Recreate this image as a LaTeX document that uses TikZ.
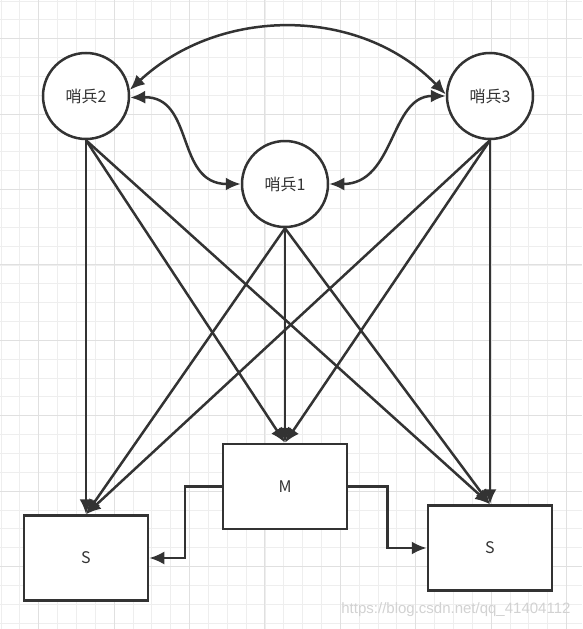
\documentclass[tikz,border=0pt]{standalone}
\usepackage{fontspec}
\setmainfont{Noto Sans CJK SC}
\newfontfamily\wmfont{Liberation Sans}
\usetikzlibrary{arrows.meta}
\definecolor{ink}{HTML}{333333}
\definecolor{gminor}{HTML}{EEEEEE}
\definecolor{gmajor}{HTML}{E0E0E0}
\tikzset{
  sentry/.style={circle, draw=ink, line width=2.5pt, fill=white, minimum size=86pt, inner sep=0pt, font=\fontsize{16}{19}\selectfont, text=ink},
  box/.style={rectangle, draw=ink, line width=2.5pt, fill=white, minimum width=124pt, minimum height=85pt, inner sep=0pt, font=\fontsize{16}{19}\selectfont, text=ink},
  conn/.style={draw=ink, line width=2.5pt, -{Latex[length=15pt,width=13pt]}},
  dconn/.style={draw=ink, line width=2.5pt, {Latex[length=15pt,width=13pt]}-{Latex[length=15pt,width=13pt]}}
}
\begin{document}
\begin{tikzpicture}[x=1pt,y=-1pt]
\useasboundingbox (0,0) rectangle (582,629);
\fill[white] (0,0) rectangle (582,629);
% grid
\foreach \i in {0,...,33} {
  \pgfmathsetmacro{\gx}{round(0.6+18.85*\i)+0.5}
  \draw[gminor, line width=1pt] (\gx,0) -- (\gx,629);
  \draw[gminor, line width=1pt] (0,\gx) -- (582,\gx);
}
\foreach \i in {0,...,7} {
  \pgfmathsetmacro{\gx}{round(38.3+75.4*\i)+0.5}
  \draw[gmajor, line width=1pt] (\gx,0) -- (\gx,629);
  \draw[gmajor, line width=1pt] (0,\gx) -- (582,\gx);
}
% nodes
\node[sentry] (s2) at (86,96) {哨兵2};
\node[sentry] (s3) at (490,96) {哨兵3};
\node[sentry] (s1) at (285,184) {哨兵1};
\node[box] (m) at (285,486.5) {M};
\node[box] (sl) at (86,558) {S};
\node[box] (sr) at (490,548) {S};
% curved double arrows
\draw[dconn] (s2.8) .. controls (220,6) and (360,6) .. (s3.178);
\draw[dconn] (s2.-2) .. controls (195,96) and (175,184) .. (s1.west);
\draw[dconn] (s3.west) .. controls (390,96) and (395,184) .. (s1.east);
% straight arrows
\foreach \src in {s2,s1,s3} {
  \foreach \dst in {sl,m,sr} {
    \draw[conn] (\src.south) -- (\dst.north);
  }
}
% elbow connectors
\draw[conn] (m.west) -- ++(-37,0) |- (sl.east);
\draw[conn] (m.east) -- ++(39,0) |- (sr.west);
% watermark
\node[anchor=east, font=\wmfont\fontsize{15}{17}\selectfont, text=gray!35] (wm) at (574,610) {https://blog.csdn.net/qq\_41404112};
\end{tikzpicture}
\end{document}
